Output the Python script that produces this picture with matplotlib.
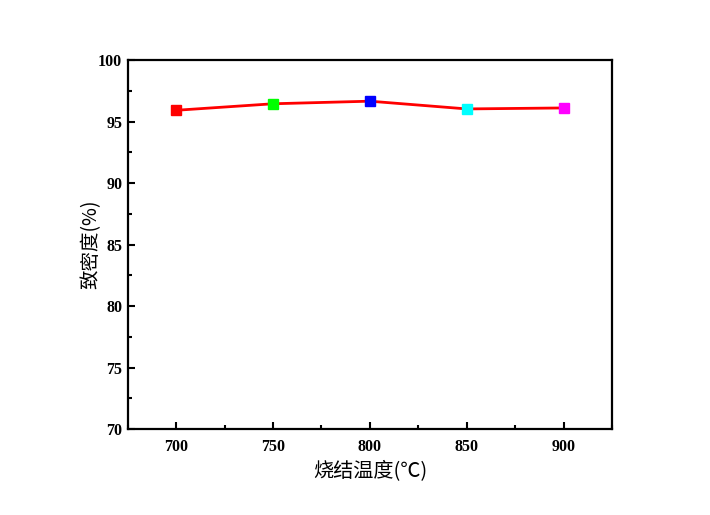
import matplotlib
matplotlib.use("Agg")
import matplotlib.pyplot as plt
from matplotlib.ticker import MultipleLocator

temps = [700, 750, 800, 850, 900]
density = [95.93, 96.46, 96.67, 96.04, 96.12]
marker_colors = ["#ff0000", "#00ff00", "#0000ff", "#00ffff", "#ff00ff"]
xlabel = "烧结温度(℃)"
ylabel = "致密度(%)"

fig = plt.figure(figsize=(7.1, 5.15), dpi=100)
ax = fig.add_axes([0.180, 0.167, 0.682, 0.716])

ax.plot(temps, density, color="#ff0000", linewidth=2.0, zorder=2)
for t, d, c in zip(temps, density, marker_colors):
    ax.plot([t], [d], marker="s", markersize=6.5, color=c, linestyle="none", zorder=3)

ax.set_xlim(675, 925)
ax.set_ylim(70, 100)
ax.xaxis.set_major_locator(MultipleLocator(50))
ax.xaxis.set_minor_locator(MultipleLocator(25))
ax.yaxis.set_major_locator(MultipleLocator(5))
ax.yaxis.set_minor_locator(MultipleLocator(2.5))
ax.tick_params(which="both", direction="in", top=False, right=False, width=1.5)
ax.tick_params(which="major", length=5)
ax.tick_params(which="minor", length=3)
ax.tick_params(axis="x", which="major", pad=7)
ax.tick_params(axis="y", which="major", pad=4)
for s in ax.spines.values():
    s.set_linewidth(1.6)

for lbl in ax.get_xticklabels() + ax.get_yticklabels():
    lbl.set_fontfamily(["Liberation Serif", "DejaVu Serif"])
    lbl.set_fontweight("bold")
    lbl.set_fontsize(11.5)

ax.set_xlabel(xlabel, fontsize=14.5, family=["Noto Sans CJK SC", "DejaVu Sans"], labelpad=4)
ax.set_ylabel(ylabel, fontsize=14, family=["Noto Sans CJK SC", "DejaVu Sans"], labelpad=-2)

fig.savefig("out.png", dpi=100)
